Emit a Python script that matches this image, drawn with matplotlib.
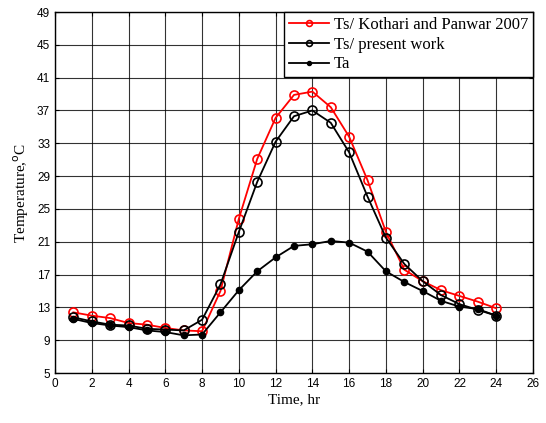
import numpy as np
import matplotlib.pyplot as plt

hours = np.arange(1, 25)

ts_kothari = [12.4, 12.0, 11.7, 11.1, 10.9, 10.5, 10.2, 10.1, 15.0, 23.8, 31.1, 36.1,
              38.9, 39.3, 37.4, 33.8, 28.5, 22.2, 17.6, 16.2, 15.1, 14.4, 13.7, 12.9]
ts_present = [11.8, 11.3, 10.9, 10.8, 10.4, 10.3, 10.2, 11.5, 15.8, 22.2, 28.3, 33.2,
              36.3, 37.0, 35.5, 31.9, 26.5, 21.5, 18.3, 16.2, 14.5, 13.4, 12.7, 12.0]
ta = [11.6, 11.1, 10.8, 10.6, 10.2, 10.0, 9.6, 9.7, 12.4, 15.1, 17.4, 19.1,
      20.5, 20.7, 21.1, 20.9, 19.8, 17.4, 16.1, 15.0, 13.8, 13.1, 12.8, 12.0]

labels = ["Ts/ Kothari and Panwar 2007", "Ts/ present work", "Ta"]

serif = "Liberation Serif"
sans = "Liberation Sans"

fig = plt.figure(figsize=(5.46, 4.23), dpi=100)
ax = fig.add_axes([0.1007, 0.118, 0.8755, 0.8536])

ax.plot(hours, ts_kothari, color="red", lw=1.3, marker="o", ms=6.5,
        mfc="none", mec="red", mew=1.2, label=labels[0])
ax.plot(hours, ts_present, color="black", lw=1.3, marker="o", ms=6.5,
        mfc="none", mec="black", mew=1.2, label=labels[1])
ax.plot(hours, ta, color="black", lw=1.3, marker="o", ms=4.5,
        mfc="black", mec="black", label=labels[2])

ax.set_xlim(0, 26)
ax.set_ylim(5, 49)
ax.set_xticks(np.arange(0, 27, 2))
ax.set_yticks(np.arange(5, 50, 4))
ax.grid(True, color="black", lw=0.8, alpha=0.8)
ax.tick_params(direction="in", top=True, right=True, length=3, labelsize=8.5)
for lab in ax.get_xticklabels() + ax.get_yticklabels():
    lab.set_fontfamily(sans)
for s in ax.spines.values():
    s.set_linewidth(1.0)

ax.set_xlabel("Time, hr", fontfamily=serif, fontsize=11, labelpad=2)
ax.set_ylabel("Temperature,$^{\\rm o}$C", fontfamily=serif, fontsize=11, labelpad=4)

leg = ax.legend(loc="upper right", prop={"family": serif, "size": 12},
                fancybox=False, framealpha=1, edgecolor="black",
                borderaxespad=0, handlelength=2.4, labelspacing=0.22,
                borderpad=0.3, handletextpad=0.3, markerscale=0.65)
leg.get_frame().set_linewidth(1.0)

fig.savefig("out.png", dpi=100)
